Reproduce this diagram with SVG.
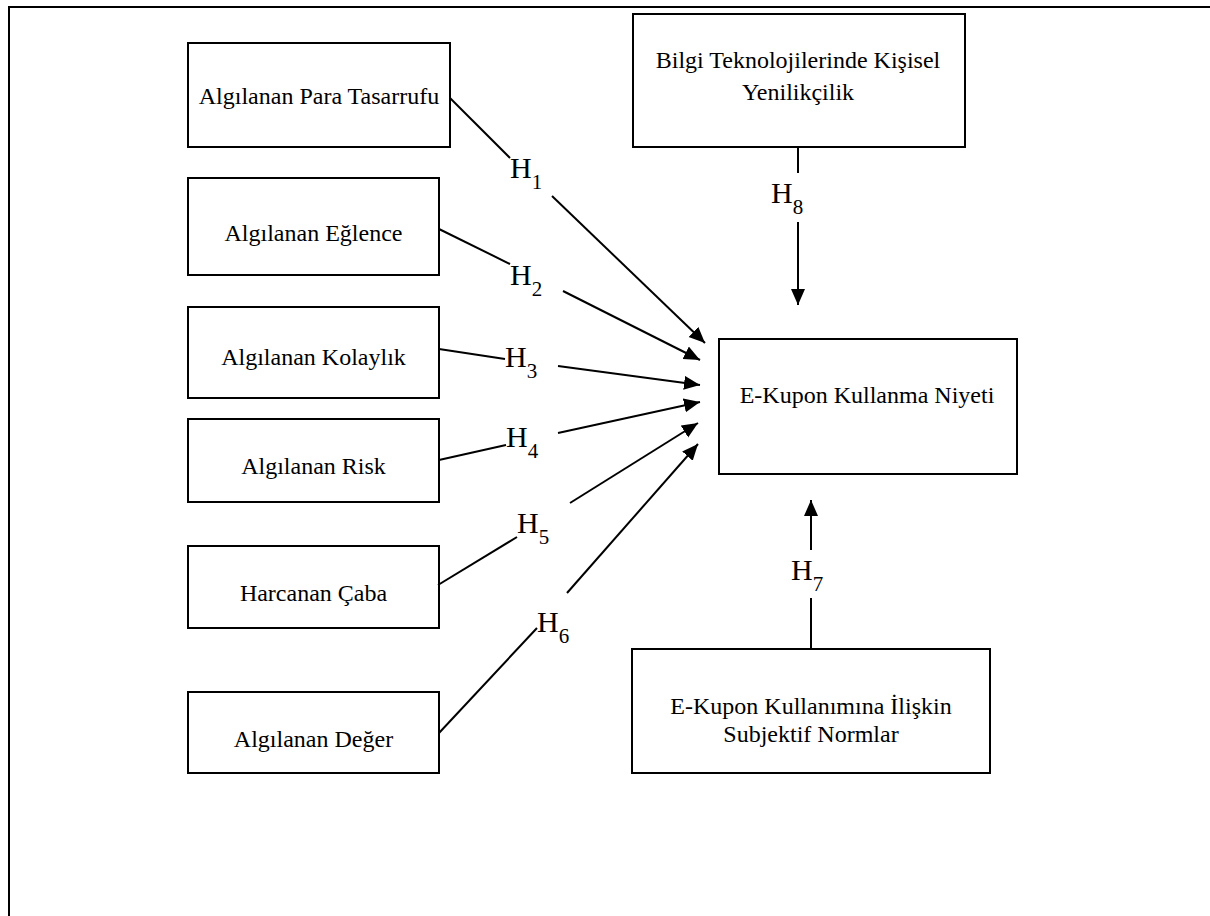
<svg xmlns="http://www.w3.org/2000/svg" width="1210" height="916" viewBox="0 0 1210 916">
<style>
.box{fill:#fff;stroke:#000;stroke-width:2}
.t{font-family:"Liberation Serif","Times New Roman",serif;font-size:24px;fill:#000;text-anchor:middle}
.h{font-family:"Liberation Serif","Times New Roman",serif;font-size:30px;fill:#000}
.s{font-size:21px}
.ln{stroke:#000;stroke-width:2;fill:none}
.ar{stroke:#000;stroke-width:2;fill:none;marker-end:url(#ah)}
</style>
<defs>
<marker id="ah" markerUnits="userSpaceOnUse" markerWidth="17" markerHeight="15" refX="16" refY="7" orient="auto" viewBox="0 0 17 15">
<path d="M0,0 L16,7 L0,14 z" fill="#000"/>
</marker>
</defs>
<rect width="1210" height="916" fill="#fff"/>
<g id="frame">
<path d="M9,916 L9,7 L1210,7" class="ln" stroke-width="2.5"/>
</g>
<g id="n1"><rect class="box" x="188" y="43" width="262" height="104"/><text class="t" x="319" y="104">Algılanan Para Tasarrufu</text></g>
<g id="n2"><rect class="box" x="188" y="178" width="251" height="97"/><text class="t" x="313.5" y="241">Algılanan Eğlence</text></g>
<g id="n3"><rect class="box" x="188" y="307" width="251" height="91"/><text class="t" x="313.5" y="365">Algılanan Kolaylık</text></g>
<g id="n4"><rect class="box" x="188" y="419" width="251" height="83"/><text class="t" x="313.5" y="474">Algılanan Risk</text></g>
<g id="n5"><rect class="box" x="188" y="546" width="251" height="82"/><text class="t" x="313.5" y="601">Harcanan Çaba</text></g>
<g id="n6"><rect class="box" x="188" y="692" width="251" height="81"/><text class="t" x="313.5" y="747">Algılanan Değer</text></g>
<g id="n7"><rect class="box" x="633" y="14" width="332" height="133"/><text class="t" x="798" y="68">Bilgi Teknolojilerinde Kişisel</text><text class="t" x="798" y="100">Yenilikçilik</text></g>
<g id="n8"><rect class="box" x="719" y="339" width="298" height="135"/><text class="t" x="867" y="403">E-Kupon Kullanma Niyeti</text></g>
<g id="n9"><rect class="box" x="632" y="649" width="358" height="124"/><text class="t" x="811" y="714">E-Kupon Kullanımına İlişkin</text><text class="t" x="811" y="742">Subjektif Normlar</text></g>
<g id="connectors">
<line class="ln" x1="450" y1="98" x2="510" y2="158"/>
<line class="ar" x1="552" y1="196" x2="705" y2="343"/>
<line class="ln" x1="439" y1="229" x2="510" y2="264"/>
<line class="ar" x1="563" y1="291" x2="700" y2="360"/>
<line class="ln" x1="439" y1="349" x2="505" y2="359"/>
<line class="ar" x1="558" y1="366" x2="700" y2="385"/>
<line class="ln" x1="439" y1="460" x2="506" y2="445"/>
<line class="ar" x1="558" y1="433" x2="700" y2="402"/>
<line class="ln" x1="438" y1="585" x2="517" y2="537"/>
<line class="ar" x1="570" y1="503" x2="698" y2="423"/>
<line class="ln" x1="439" y1="733" x2="537" y2="628"/>
<line class="ar" x1="567" y1="593" x2="698" y2="444"/>
<line class="ln" x1="798" y1="147" x2="798" y2="173"/>
<line class="ar" x1="798" y1="222" x2="798" y2="305"/>
<line class="ln" x1="811" y1="649" x2="811" y2="598"/>
<line class="ar" x1="811" y1="550" x2="811" y2="500"/>
</g>
<g id="labels">
<text class="h" x="510" y="178">H<tspan class="s" dy="11">1</tspan></text>
<text class="h" x="510" y="285">H<tspan class="s" dy="11">2</tspan></text>
<text class="h" x="505" y="367">H<tspan class="s" dy="11">3</tspan></text>
<text class="h" x="506" y="447">H<tspan class="s" dy="11">4</tspan></text>
<text class="h" x="517" y="533">H<tspan class="s" dy="11">5</tspan></text>
<text class="h" x="537" y="632">H<tspan class="s" dy="11">6</tspan></text>
<text class="h" x="771" y="203">H<tspan class="s" dy="11">8</tspan></text>
<text class="h" x="791" y="580">H<tspan class="s" dy="11">7</tspan></text>
</g>
</svg>
